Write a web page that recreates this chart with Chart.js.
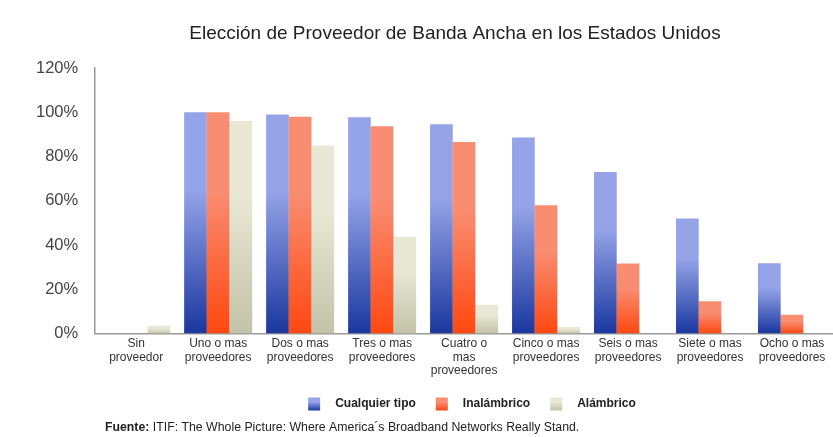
<!DOCTYPE html>
<html>
<head>
<meta charset="utf-8">
<script src="https://cdn.jsdelivr.net/npm/chart.js@4.4.1/dist/chart.umd.min.js"></script>
<style>
html,body{margin:0;padding:0;background:#fff;}
#wrap{width:833px;height:437px;position:relative;}
</style>
</head>
<body>
<div id="wrap"><canvas id="c" width="833" height="437"></canvas></div>
<script>
const titleText = 'Elección de Proveedor de Banda Ancha en los Estados Unidos';
const categories = [
  ["Sin", "proveedor"],
  ["Uno o mas", "proveedores"],
  ["Dos o mas", "proveedores"],
  ["Tres o mas", "proveedores"],
  ["Cuatro o", "mas", "proveedores"],
  ["Cinco o mas", "proveedores"],
  ["Seis o mas", "proveedores"],
  ["Siete o mas", "proveedores"],
  ["Ocho o mas", "proveedores"]
];
const seriesNames = ['Cualquier tipo', 'Inalámbrico', 'Alámbrico'];
const cualquierTipo = [0, 100, 99, 97.7, 94.6, 88.6, 73, 52, 31.8];
const inalambrico   = [0, 100, 98, 93.7, 86.6, 58, 31.7, 14.6, 8.5];
const alambrico     = [3.6, 96, 85, 43.6, 13, 3, 0, 0, 0];
const yTicks = [0, 20, 40, 60, 80, 100, 120];
const sourceLabel = 'Fuente:';
const sourceText = 'ITIF: The Whole Picture: Where America´s Broadband Networks Really Stand.';

const palette = [
  { light: '#95a4e8', dark: '#1a379f', mid: '#5469c9' },
  { light: '#f98d72', dark: '#ff4810', mid: '#f86a45' },
  { light: '#e8e8d4', dark: '#c3c3a9', mid: '#d8d8c0' }
];

function makeGrad(c, top, bottom, p) {
  const g = c.createLinearGradient(0, top, 0, bottom);
  g.addColorStop(0, p.light);
  g.addColorStop(0.35, p.light);
  g.addColorStop(1, p.dark);
  return g;
}

function grad(p) {
  return function(ctx) {
    const chart = ctx.chart;
    const area = chart.chartArea;
    const ys = chart.scales && chart.scales.y;
    if (!area || !ys || ctx.raw == null) return p.mid;
    const top = ys.getPixelForValue(ctx.raw);
    const bottom = ys.getPixelForValue(0);
    if (bottom - top < 2) return p.mid;
    return makeGrad(chart.ctx, top, bottom, p);
  };
}

const extras = {
  id: 'extras',
  afterDraw(chart) {
    const c = chart.ctx;
    c.save();
    // title
    c.fillStyle = '#222';
    c.textAlign = 'center';
    c.textBaseline = 'middle';
    c.font = '19px Arial, "Liberation Sans", sans-serif';
    c.fillText(titleText, 455, 34);
    // legend
    c.textAlign = 'left';
    c.font = 'bold 12px "Liberation Sans Narrow", Arial, sans-serif';
    const boxW = 12, boxH = 13, gapText = 15, gapItem = 20;
    let total = 0;
    const widths = seriesNames.map(n => c.measureText(n).width);
    widths.forEach((w, i) => { total += boxW + gapText + w + (i < widths.length - 1 ? gapItem : 0); });
    let x = 472 - total / 2;
    const ly = 404;
    seriesNames.forEach((n, i) => {
      c.fillStyle = makeGrad(c, ly - boxH / 2, ly + boxH / 2, palette[i]);
      c.fillRect(x, ly - boxH / 2, boxW, boxH);
      x += boxW + gapText;
      c.fillStyle = '#222';
      c.fillText(n, x, ly);
      x += widths[i] + gapItem;
    });
    // footnote
    c.font = 'bold 12.3px "Liberation Sans Narrow", Arial, sans-serif';
    c.fillText(sourceLabel, 105, 428);
    const w = c.measureText(sourceLabel + ' ').width;
    c.font = '12.3px "Liberation Sans Narrow", Arial, sans-serif';
    c.fillText(sourceText, 105 + w, 428);
    c.restore();
  }
};

new Chart(document.getElementById('c'), {
  type: 'bar',
  data: {
    labels: categories,
    datasets: [
      { label: seriesNames[0], data: cualquierTipo, backgroundColor: grad(palette[0]) },
      { label: seriesNames[1], data: inalambrico, backgroundColor: grad(palette[1]) },
      { label: seriesNames[2], data: alambrico, backgroundColor: grad(palette[2]) }
    ]
  },
  options: {
    responsive: false,
    animation: false,
    layout: { padding: { left: 19, right: 0, top: 68, bottom: 56 } },
    datasets: { bar: { categoryPercentage: 0.83, barPercentage: 1.0 } },
    plugins: {
      title: { display: false },
      legend: { display: false },
      tooltip: { enabled: false }
    },
    scales: {
      x: {
        grid: { display: false, drawTicks: false },
        border: { display: true, color: '#999', width: 1.5 },
        ticks: {
          color: '#333', padding: 3, maxRotation: 0, autoSkip: false,
          font: { family: '"Liberation Sans Narrow", Arial, sans-serif', size: 12, lineHeight: 1.15 }
        }
      },
      y: {
        min: 0, max: 120,
        afterBuildTicks(axis) { axis.ticks = yTicks.map(v => ({ value: v })); },
        grid: { display: false, drawTicks: false },
        border: { display: true, color: '#999', width: 1.5 },
        ticks: {
          color: '#444', padding: 17,
          font: { family: 'Arial, "Liberation Sans", sans-serif', size: 16.5 },
          callback: v => v + '%'
        }
      }
    }
  },
  plugins: [extras]
});
</script>
</body>
</html>
